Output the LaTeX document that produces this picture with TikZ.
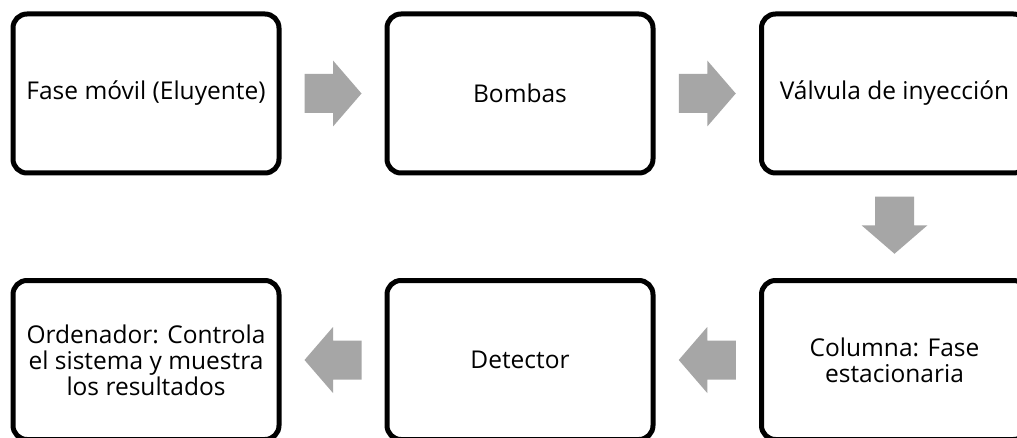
\documentclass[tikz,border=0pt]{standalone}
\usepackage{fontspec}
\setmainfont{Open Sans}
\usetikzlibrary{calc}
\definecolor{arrowgray}{HTML}{A6A6A6}
\tikzset{
  stage/.style={draw=black, line width=5pt, rounded corners=14pt, fill=white,
    minimum width=266pt, minimum height=159pt, inner sep=0pt,
    align=center, font=\fontsize{24.5}{26}\selectfont},
}
% block arrow pointing along +x, centred on #1 and turned by #2 degrees
\newcommand\blockarrow[2]{%
  \begin{scope}[shift={(#1)}, rotate=#2]
    \fill[arrowgray] (-28.5,-19.5) -- (0,-19.5) -- (0,-33) -- (28.5,0)
      -- (0,33) -- (0,19.5) -- (-28.5,19.5) -- cycle;
  \end{scope}}
\begin{document}
\begin{tikzpicture}[x=1pt, y=1pt]
\useasboundingbox (0,0) rectangle (1017,437);
\fill[white] (0,0) rectangle (1017,437);
% upper row
\node[stage] (movil) at (146,343.5) {Fase móvil (Eluyente)};
\node[stage] (bombas) at (520,343.5) {Bombas};
\node[stage] (valvula) at (894.5,343.5) {Válvula de inyección};
% lower row
\node[stage] (columna) at (894.5,77) {Columna: Fase\\estacionaria};
\node[stage] (detector) at (520,77) {Detector};
\node[stage] (ordenador) at (146,77) {Ordenador: Controla\\el sistema y muestra\\los resultados};
% flow arrows
\coordinate (a1) at ($(movil.east)!0.5!(bombas.west)$);
\coordinate (a2) at ($(bombas.east)!0.5!(valvula.west)$);
\coordinate (a3) at ($(valvula.south)!0.5!(columna.north)+(0,1.5)$);
\coordinate (a4) at ($(columna.west)!0.5!(detector.east)$);
\coordinate (a5) at ($(detector.west)!0.5!(ordenador.east)$);
\blockarrow{a1}{0}
\blockarrow{a2}{0}
\blockarrow{a3}{-90}
\blockarrow{a4}{180}
\blockarrow{a5}{180}
\end{tikzpicture}
\end{document}
